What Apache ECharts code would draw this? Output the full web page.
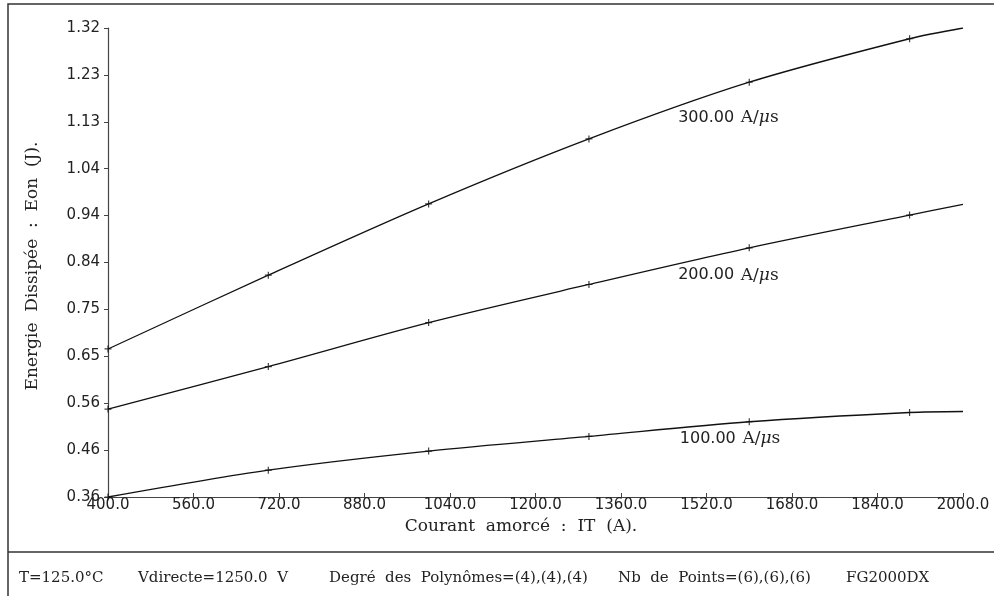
<!DOCTYPE html>
<html>
<head>
<meta charset="utf-8">
<script src="https://cdn.jsdelivr.net/npm/echarts@6/dist/echarts.min.js"></script>
<style>
html,body{margin:0;padding:0;background:#fff;}
#chart{width:994px;height:596px;}
</style>
</head>
<body>
<div id="chart"></div>
<script>
// Courant amorcé IT (A): measured points (6) + end of polynomial fit
const currentX = [400, 700, 1000, 1300, 1600, 1900, 2000];
const measuredCount = 6;
// Energie dissipée Eon (J)
const eon300 = [0.663, 0.814, 0.960, 1.093, 1.209, 1.298, 1.320];
const eon200 = [0.540, 0.627, 0.717, 0.795, 0.870, 0.937, 0.959];
const eon100 = [0.360, 0.415, 0.454, 0.484, 0.514, 0.533, 0.535];
const seriesNames = ['300.00', '200.00', '100.00'];
const labelAnchors = [[1467, 1.136], [1467, 0.814], [1470, 0.479]];
const yTickLabels = ['0.36','0.46','0.56','0.65','0.75','0.84','0.94','1.04','1.13','1.23','1.32'];
const yMin = 0.36, yMax = 1.32, yStep = 0.096;
const xMin = 400, xMax = 2000, xStep = 160;

const sansFont = 'DejaVu Sans';
const serifFont = 'DejaVu Serif';

const chart = echarts.init(document.getElementById('chart'), null, {renderer: 'canvas'});

function pairs(arr, n) {
  const out = [];
  const len = n == null ? arr.length : n;
  for (let i = 0; i < len; i++) out.push([currentX[i], arr[i]]);
  return out;
}

const allSeries = [eon300, eon200, eon100];
const series = [];
allSeries.forEach((arr, i) => {
  series.push({
    type: 'line', name: seriesNames[i], data: pairs(arr), smooth: 0.3,
    showSymbol: false, symbol: 'none', silent: true,
    lineStyle: {color: '#111', width: 1.3}
  });
  series.push({
    type: 'scatter', data: pairs(arr, measuredCount), silent: true,
    symbol: 'path://M5,0L5,10M0,5L10,5', symbolSize: 7,
    itemStyle: {color: 'none', borderColor: '#111', borderWidth: 1.2}
  });
});

chart.setOption({
  animation: false,
  backgroundColor: '#fff',
  grid: {left: 108, right: 31, top: 28, bottom: 99, containLabel: false},
  xAxis: {
    type: 'value', min: xMin, max: xMax, interval: xStep,
    axisLine: {lineStyle: {color: '#444', width: 1.2}},
    axisTick: {inside: true, length: 4, lineStyle: {color: '#444'}},
    splitLine: {show: false},
    axisLabel: {color: '#222', fontFamily: sansFont, fontSize: 15, margin: 1,
      formatter: v => v.toFixed(1), showMaxLabel: true, showMinLabel: true}
  },
  yAxis: {
    type: 'value', min: yMin, max: yMax, interval: yStep,
    axisLine: {show: true, lineStyle: {color: '#444', width: 1.2}},
    axisTick: {show: true, inside: false, length: 4, lineStyle: {color: '#444'}},
    splitLine: {show: false},
    axisLabel: {color: '#222', fontFamily: sansFont, fontSize: 15, margin: 8,
      formatter: v => yTickLabels[Math.round((v - yMin) / yStep)] || '',
      showMaxLabel: true, showMinLabel: true}
  },
  series: series
});

const graphics = [
  {type: 'rect', shape: {x: 8, y: 4, width: 992, height: 600}, style: {fill: 'none', stroke: '#333', lineWidth: 1.5}, silent: true},
  {type: 'line', shape: {x1: 8, y1: 552, x2: 994, y2: 552}, style: {stroke: '#333', lineWidth: 1.5}, silent: true},
  {type: 'text', x: 521, y: 527, style: {text: 'Courant  amorcé  :  IT  (A).', font: '17px "' + serifFont + '"', fill: '#222', align: 'center', verticalAlign: 'middle'}},
  {type: 'text', x: 33, y: 266, rotation: Math.PI / 2, style: {text: 'Energie  Dissipée  :  Eon  (J).', font: '17px "' + serifFont + '"', fill: '#222', align: 'center', verticalAlign: 'middle'}},
  {type: 'text', x: 19, y: 578, style: {text: 'T=125.0°C', font: '15px "' + serifFont + '"', fill: '#222', align: 'left', verticalAlign: 'middle'}},
  {type: 'text', x: 138, y: 578, style: {text: 'Vdirecte=1250.0  V', font: '15px "' + serifFont + '"', fill: '#222', align: 'left', verticalAlign: 'middle'}},
  {type: 'text', x: 329, y: 578, style: {text: 'Degré  des  Polynômes=(4),(4),(4)', font: '15px "' + serifFont + '"', fill: '#222', align: 'left', verticalAlign: 'middle'}},
  {type: 'text', x: 618, y: 578, style: {text: 'Nb  de  Points=(6),(6),(6)', font: '15px "' + serifFont + '"', fill: '#222', align: 'left', verticalAlign: 'middle'}},
  {type: 'text', x: 846, y: 578, style: {text: 'FG2000DX', font: '15px "' + serifFont + '"', fill: '#222', align: 'left', verticalAlign: 'middle'}}
];

labelAnchors.forEach((a, i) => {
  const p = chart.convertToPixel({gridIndex: 0}, a);
  graphics.push({
    type: 'text', x: p[0], y: p[1],
    style: {
      text: '{n|' + seriesNames[i] + '}  {u|A/}{m|μ}{u|s}',
      align: 'left', verticalAlign: 'middle', fill: '#222',
      rich: {
        n: {fontFamily: sansFont, fontSize: 16, fill: '#222'},
        u: {fontFamily: serifFont, fontSize: 17, fill: '#222'},
        m: {fontFamily: serifFont, fontSize: 17, fontStyle: 'italic', fill: '#222'}
      }
    }
  });
});

chart.setOption({graphic: graphics});
</script>
</body>
</html>
